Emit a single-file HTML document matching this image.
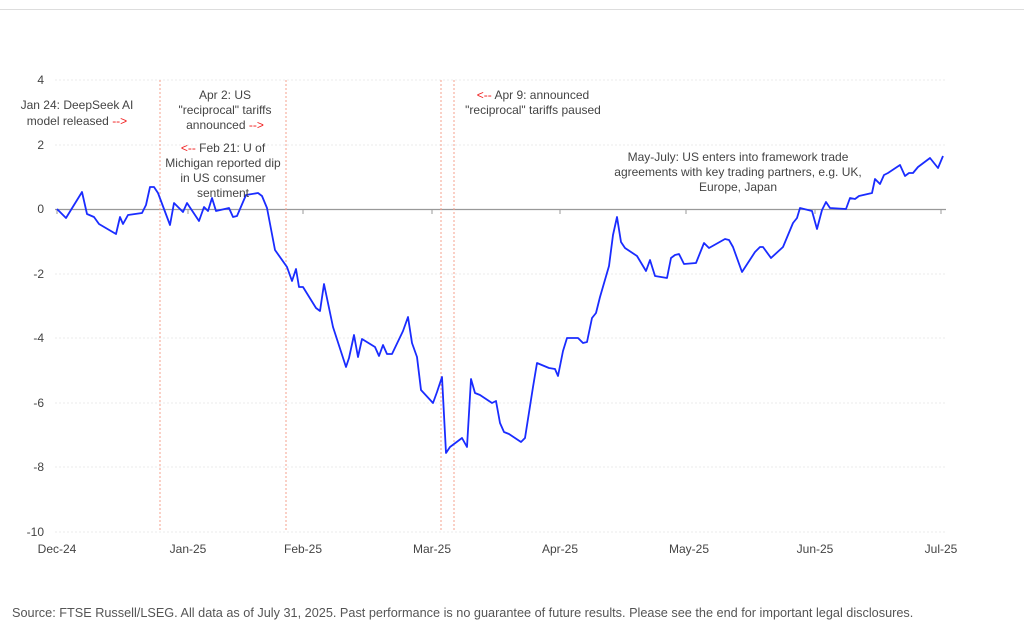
<!DOCTYPE html><html><head><style>body{margin:0;background:#fff;width:1024px;height:638px;overflow:hidden;font-family:"Liberation Sans",sans-serif}</style></head><body>
<svg width="1024" height="638" xmlns="http://www.w3.org/2000/svg" font-family="Liberation Sans, sans-serif">
<line x1="0" y1="9.5" x2="1024" y2="9.5" stroke="#ddd"/>
<g stroke="#ebebeb" stroke-dasharray="2,2"><line x1="55" y1="80" x2="946" y2="80"/><line x1="55" y1="145" x2="946" y2="145"/><line x1="55" y1="274" x2="946" y2="274"/><line x1="55" y1="338" x2="946" y2="338"/><line x1="55" y1="403" x2="946" y2="403"/><line x1="55" y1="467" x2="946" y2="467"/><line x1="55" y1="532" x2="946" y2="532"/></g>
<line x1="55" y1="209.5" x2="946" y2="209.5" stroke="#999" stroke-width="1.2"/>
<g stroke="#999"><line x1="57" y1="209" x2="57" y2="214"/><line x1="188" y1="209" x2="188" y2="214"/><line x1="303" y1="209" x2="303" y2="214"/><line x1="432" y1="209" x2="432" y2="214"/><line x1="560" y1="209" x2="560" y2="214"/><line x1="686" y1="209" x2="686" y2="214"/><line x1="815" y1="209" x2="815" y2="214"/><line x1="941" y1="209" x2="941" y2="214"/></g>
<g stroke="#f5a08c" stroke-dasharray="2,2"><line x1="160" y1="80" x2="160" y2="532"/><line x1="286" y1="80" x2="286" y2="532"/><line x1="441" y1="80" x2="441" y2="532"/><line x1="454" y1="80" x2="454" y2="532"/></g>
<g font-size="12" fill="#444" text-anchor="end"><text x="44" y="84">4</text><text x="44" y="149">2</text><text x="44" y="213">0</text><text x="44" y="278">-2</text><text x="44" y="342">-4</text><text x="44" y="407">-6</text><text x="44" y="471">-8</text><text x="44" y="536">-10</text></g>
<g font-size="12" fill="#444" text-anchor="middle"><text x="57" y="553">Dec-24</text><text x="188" y="553">Jan-25</text><text x="303" y="553">Feb-25</text><text x="432" y="553">Mar-25</text><text x="560" y="553">Apr-25</text><text x="689" y="553">May-25</text><text x="815" y="553">Jun-25</text><text x="941" y="553">Jul-25</text></g>
<polyline fill="none" stroke="#1a2cff" stroke-width="1.8" stroke-linejoin="round" points="57,209 66,218 82,192 87,214 94,217 99,224 116,234 120,217 123,224 128,215 142,213 146,205 150,187 154,187 158,193 170,225 174,203 183,212 187,203 199,221 204,207 208,211 212,198 216,211 229,208 233,217 237,216 246,195 258,193 262,196 267,208 275,250 287,267 292,281 296,269 299,287 303,287 316,308 320,311 324,284 333,327 346,367 349,358 354,335 358,357 362,339 375,347 379,356 383,345 387,354 392,354 403,331 408,317 412,343 417,357 421,390 433,403 437,392 442,377 446,453 450,447 462,438 467,447 471,379 475,393 480,395 492,403 496,401 500,423 504,432 509,434 521,442 525,438 533,387 537,363 549,368 555,369 558,376 563,351 567,338 578,338 583,343 587,342 592,318 596,313 600,297 609,266 613,235 617,217 621,242 625,248 637,256 646,271 650,260 655,276 667,278 671,258 675,255 679,254 684,264 696,263 700,253 704,243 709,248 725,239 729,240 733,247 742,272 755,252 760,247 763,247 771,258 783,247 788,235 793,223 797,218 800,208 812,211 817,229 822,210 826,202 830,208 846,209 850,198 855,199 859,196 872,193 875,179 880,184 884,175 888,173 900,165 905,176 909,173 913,173 918,167 930,158 934,163 938,168 943,156"/>
<g font-size="12" fill="#444" text-anchor="middle">
<text x="77" y="109">Jan 24: DeepSeek AI</text><text x="77" y="125">model released <tspan fill="#f02020">--&gt;</tspan></text>
<text x="225" y="99">Apr 2: US</text><text x="225" y="114">"reciprocal" tariffs</text><text x="225" y="129">announced <tspan fill="#f02020">--&gt;</tspan></text>
<text x="223" y="152"><tspan fill="#f02020">&lt;--</tspan> Feb 21: U of</text><text x="223" y="167">Michigan reported dip</text><text x="223" y="182">in US consumer</text><text x="223" y="197">sentiment</text>
<text x="533" y="99"><tspan fill="#f02020">&lt;--</tspan> Apr 9: announced</text><text x="533" y="114">"reciprocal" tariffs paused</text>
<text x="738" y="161">May-July: US enters into framework trade</text><text x="738" y="176">agreements with key trading partners, e.g. UK,</text><text x="738" y="191">Europe, Japan</text>
</g>
<text x="12" y="617" font-size="12.7" fill="#555">Source: FTSE Russell/LSEG. All data as of July 31, 2025. Past performance is no guarantee of future results. Please see the end for important legal disclosures.</text>
</svg></body></html>
